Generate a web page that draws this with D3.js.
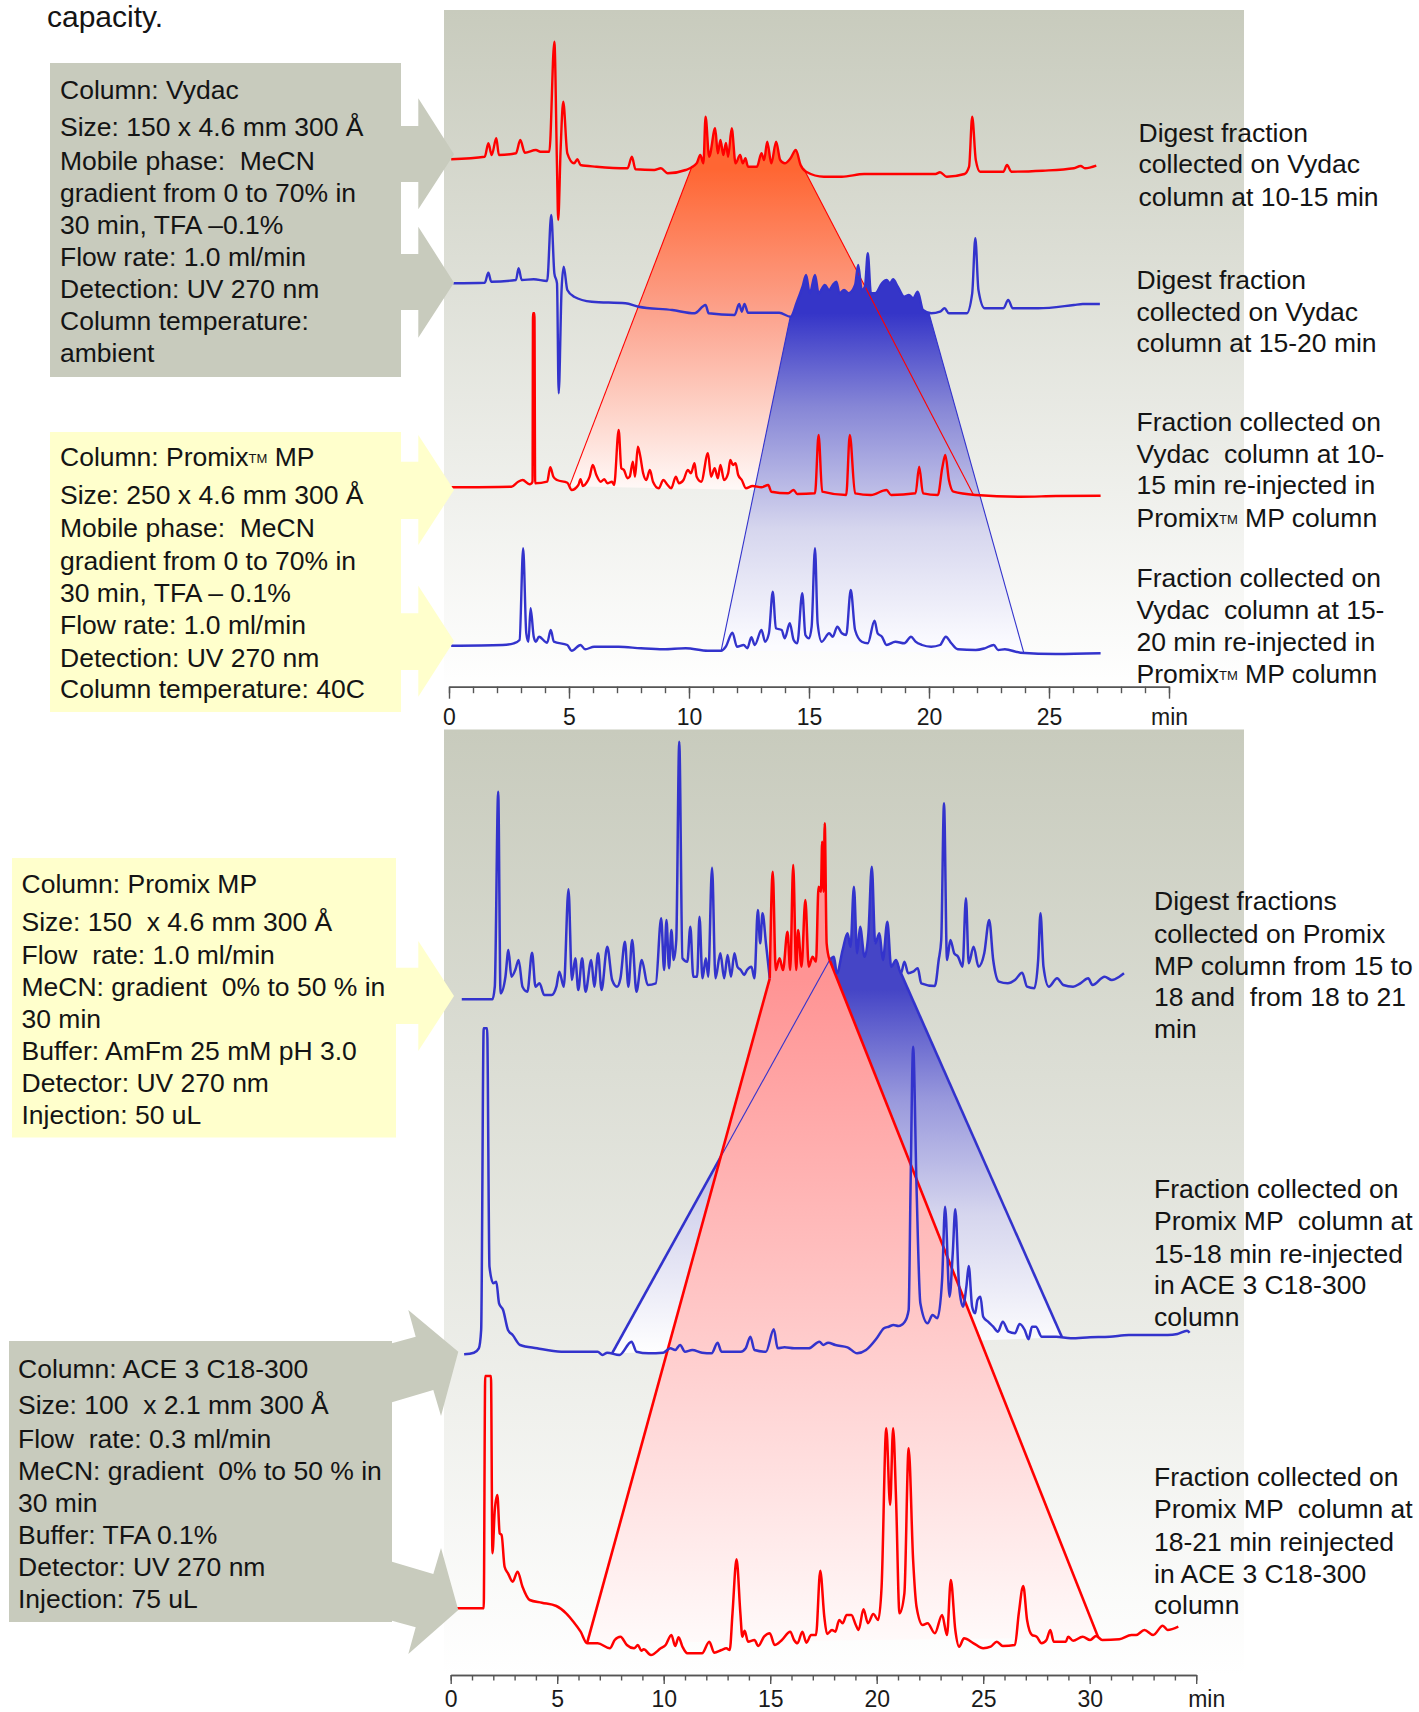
<!DOCTYPE html>
<html><head><meta charset="utf-8">
<script src="https://cdn.jsdelivr.net/npm/d3@7"></script>
<style>
body{margin:0;background:#fff}
svg{display:block}
text{font-family:"Liberation Sans",Arial,Helvetica,sans-serif;white-space:pre}
</style>
</head><body>
<svg id="c" width="1419" height="1712"></svg>
<script>
// ---------------- DATA ----------------
// Top figure: time (min) vs. signal (relative to each trace's start baseline)
const vydac1015 = [[0.09,0],[1.49,2.6],[1.64,16],[1.78,4.3],[1.97,21],[2.08,4.3],[2.79,6],[2.97,19.3],[3.16,6.6],[3.62,9.3],[3.81,7.6],[4.18,7.6],[4.39,117.6],[4.50,-7.4],[4.55,-60.7],[4.65,9.3],[4.76,57.6],[4.93,6],[5.21,-4],[5.35,0],[5.48,-5.7],[6.14,-7.4],[7.44,-9],[7.62,2.6],[7.77,-10],[8.55,-10.7],[8.83,-9],[9.11,-14],[9.86,-10.7],[10.32,-4],[10.47,4.3],[10.6,-4],[10.69,42.6],[10.84,2.6],[11.09,31],[11.2,6],[11.31,19.3],[11.43,4.3],[11.54,16.3],[11.63,2.6],[11.78,31],[11.94,-4],[12.13,4.3],[12.24,-4],[12.35,1],[12.46,-7.4],[12.83,-7.4],[13.02,6],[13.13,-0.7],[13.26,17.6],[13.43,-4],[13.63,17.6],[13.8,-0.7],[13.99,-4],[14.23,1],[14.45,9.3],[14.65,-5.7],[14.88,-12.4],[15.62,-17.4],[16.37,-17.4],[17.3,-14.7],[20.27,-14.7],[20.46,-13],[20.74,-17.4],[21.48,-14.7],[21.67,-7.4],[21.8,42.6],[21.95,-0.7],[22.13,-12.4],[23.1,-12.4],[23.25,-5.7],[23.43,-12.4],[24.74,-11.4],[26.04,-9],[26.32,-6.7],[26.5,-9],[26.97,-6.4]];
const vydac1520 = [[0.18,0],[1.49,0.6],[1.64,10.6],[1.76,1.6],[2.79,3.3],[2.90,15],[3.03,3.3],[3.53,4],[4.09,2.3],[4.26,68.3],[4.39,10],[4.5,0],[4.57,-110],[4.69,-6.7],[4.78,16.6],[4.93,-6.7],[5.21,-13.4],[5.95,-18.4],[7.35,-20],[7.9,-23.4],[9.3,-26.7],[10.23,-30],[10.69,-21.7],[10.82,-30],[11.9,-31.7],[12.09,-20.7],[12.2,-28.4],[12.31,-20.7],[12.46,-29.4],[13.76,-29.4],[14.23,-33.4],[14.5,-18.4],[14.73,-3.4],[14.88,8.3],[15.03,-10],[15.25,8.3],[15.4,-10],[15.66,-1.7],[15.84,-6.7],[15.99,-1.7],[16.14,1.6],[16.27,-10],[16.46,-6.7],[16.65,-10],[16.92,-1.7],[17.05,18.3],[17.2,-6.7],[17.33,-3.4],[17.45,30],[17.58,-10],[17.76,-10],[18.04,0],[18.23,3.3],[18.38,0],[18.5,4],[18.7,-3.4],[18.97,-13.4],[19.16,-11.7],[19.34,-15],[19.53,-8.4],[19.75,-26.7],[20.09,-30],[20.46,-28.4],[20.65,-25],[20.83,-30],[21.57,-30],[21.8,-10],[21.93,45],[22.06,-6.7],[22.32,-25],[23.1,-25],[23.3,-16.7],[23.49,-25],[24.55,-25],[26.04,-21.7],[26.41,-20.7],[27.12,-20.7]];
const promix1015 = [[0.09,0],[2.6,0.6],[2.88,5.6],[3.07,7.3],[3.35,3],[3.44,4],[3.48,5.6],[3.50,174],[3.56,174],[3.59,4],[4.09,5.6],[4.22,20],[4.35,10.6],[4.5,7.3],[4.93,4.6],[5.11,-2.7],[5.39,2.3],[5.48,8],[5.58,1.3],[5.76,5.6],[5.86,10.6],[5.99,22.3],[6.14,12.3],[6.32,5.6],[6.47,8],[6.6,4],[6.79,5.6],[6.88,2.3],[7.07,57.3],[7.18,19],[7.29,17.3],[7.44,9],[7.53,10.6],[7.66,25.6],[7.75,10.6],[7.87,40.6],[7.96,32.3],[8.09,14],[8.22,7.3],[8.37,17.3],[8.5,5.6],[8.74,-1],[8.93,7.3],[9.11,2.3],[9.26,-1],[9.45,10.6],[9.58,4],[9.77,7.3],[9.95,17.3],[10.08,14],[10.23,24],[10.32,10.6],[10.51,5.6],[10.79,34],[10.92,10.6],[11.07,19],[11.2,9],[11.31,22.3],[11.46,7.3],[11.63,14],[11.72,27.3],[11.83,22.3],[11.94,24],[12.05,12.3],[12.2,7.3],[12.37,-1],[12.65,1.3],[13.02,0],[13.3,2.3],[13.43,-4.4],[14.13,-6],[14.36,-2.7],[14.51,-6.7],[15.25,-6],[15.4,52.3],[15.55,-4.4],[16.55,-7.7],[16.7,52.3],[16.92,-6],[17.58,-7.7],[18.23,-2.7],[18.42,-7.7],[19.44,-6],[19.59,20.6],[19.75,-6],[20.37,-7.7],[20.55,19],[20.68,32.3],[20.83,7.3],[21.02,-4.4],[21.95,-7.7],[23.81,-9.4],[25.29,-8.7],[27.15,-8.4]];
const promix1520 = [[0.09,0],[2.23,0.7],[2.7,2.4],[2.94,5.7],[3.09,97.4],[3.22,12.4],[3.31,4],[3.4,37.4],[3.53,9],[3.62,4],[3.75,9],[4.09,3],[4.24,15.7],[4.37,4],[4.93,0.7],[5.11,-5],[5.48,0.7],[5.67,-3.6],[6.05,-1],[6.51,-1],[7.07,-1],[8.0,-2.6],[8.93,-3.6],[9.86,-2.6],[10.79,-5],[11.34,-5],[11.53,-1],[11.81,13],[12.0,-1],[12.28,0.7],[12.43,-2.6],[12.6,8.4],[12.74,0.7],[13.02,15.7],[13.17,4],[13.33,12.4],[13.49,54],[13.62,17.4],[13.86,15.7],[13.99,7.4],[14.2,22.4],[14.36,5.7],[14.51,2.4],[14.72,52.4],[14.85,10.7],[15.0,7.4],[15.11,19],[15.25,97.4],[15.36,22.4],[15.53,4],[15.84,12.4],[15.99,9],[16.18,19],[16.37,12.4],[16.55,10.7],[16.74,55.7],[16.92,15.7],[17.2,4],[17.45,2.4],[17.73,25],[17.86,12.4],[18.04,9],[18.23,0.7],[18.6,4],[18.97,2.4],[19.25,9],[19.44,4],[19.71,0.7],[20.09,-1],[20.46,0.7],[20.7,9],[20.93,2.4],[21.2,-3.6],[21.95,-4.3],[22.32,-2.6],[22.7,0.7],[22.88,-4.3],[23.16,-3.6],[23.81,-7],[25.29,-8.3],[27.15,-7.6]];

// Bottom figure
const promixDigest = [[0.52,0],[1.96,0],[2.07,12.6],[2.23,207.6],[2.34,6],[2.57,22.6],[2.71,49.3],[2.85,22.6],[3.03,29.3],[3.19,39.3],[3.37,12.6],[3.6,7.6],[3.82,46.6],[3.98,12.6],[4.17,16],[4.39,4.3],[4.74,4.3],[4.96,12.6],[5.1,27.6],[5.31,12.6],[5.53,110],[5.69,19.3],[5.85,41],[5.99,9.3],[6.17,41],[6.33,7.6],[6.6,39.3],[6.74,12.6],[6.92,46],[7.08,9.3],[7.35,52.6],[7.58,19.3],[7.81,12.6],[7.97,21],[8.18,57.6],[8.34,12.6],[8.52,59.3],[8.72,7.6],[8.97,39.3],[9.25,14.3],[9.63,16],[9.88,81],[10.02,29.3],[10.13,79.3],[10.25,31],[10.36,69.3],[10.47,39.3],[10.59,59.3],[10.73,257.6],[10.88,41],[11.11,37.6],[11.25,72.6],[11.39,22.6],[11.57,22.6],[11.68,82.6],[11.82,21],[11.98,41],[12.09,22.6],[12.27,131.6],[12.43,21],[12.66,46],[12.84,21],[13.0,44.3],[13.16,22.6],[13.32,46],[13.46,32.6],[13.62,29.3],[13.78,24.3],[13.91,29.3],[14.12,32.6],[14.26,21],[14.42,89.3],[14.53,56],[14.64,86],[14.8,56],[14.98,21],[15.12,127.6],[15.26,29.3],[15.44,41],[15.6,29.3],[15.81,67.6],[15.94,29.3],[16.08,134.3],[16.22,29.3],[16.31,69.3],[16.47,32.6],[16.65,99.3],[16.81,32.6],[16.99,42.6],[17.15,37.6],[17.27,112.6],[17.38,107.6],[17.44,157.6],[17.51,107.6],[17.56,176],[17.65,56],[17.79,39.3],[17.99,42.6],[18.13,26],[18.4,49.3],[18.63,66],[18.77,52.6],[18.93,112.6],[19.08,46],[19.22,72.6],[19.43,42.6],[19.61,66],[19.77,132.6],[19.93,56],[20.13,66],[20.29,39.3],[20.5,77.6],[20.68,32.6],[20.91,39.3],[21.14,26],[21.3,37.6],[21.48,26],[21.71,27.6],[21.93,31],[22.09,16],[22.73,13.3],[22.91,39.3],[23.03,59.3],[23.16,196],[23.3,39.3],[23.46,59.3],[23.64,46],[23.82,42.6],[24.03,32.6],[24.19,101],[24.32,36],[24.55,52.6],[24.78,32.6],[25.05,46],[25.28,79.3],[25.47,39.3],[25.74,17.6],[26.15,16],[26.49,19.3],[26.83,26.6],[27.06,12.6],[27.4,11],[27.58,39.3],[27.69,86],[27.83,32.6],[28.08,12.6],[28.47,21],[28.76,14.3],[29.22,12.6],[29.56,16],[29.93,21],[30.13,14.3],[30.7,22.6],[31.04,19.3],[31.39,22.6],[31.61,26]];
const ace1518 = [[0.63,0],[1.09,1.6],[1.32,6],[1.43,24.3],[1.55,326],[1.71,326],[1.82,87.6],[2.0,71],[2.14,72.6],[2.27,51],[2.46,44.3],[2.69,24.3],[2.91,19.3],[3.26,9.3],[4.05,6],[5.19,2.6],[6.33,2.6],[6.9,2.6],[7.13,-0.7],[7.35,1.6],[7.92,-0.7],[8.49,12.6],[8.72,2.6],[9.29,1],[9.98,1.6],[10.31,6],[10.54,4.3],[10.77,9.3],[11.0,2.6],[11.34,4.3],[11.8,1.6],[12.25,1],[12.53,11.6],[12.71,2.6],[13.62,2.6],[13.85,6],[14.07,17.6],[14.26,4.3],[14.8,2.6],[15.17,25],[15.35,6],[15.67,7],[16.12,6],[16.81,6],[17.31,12.6],[17.49,9.3],[17.72,11.6],[18.06,9.3],[18.63,7],[19.08,1],[19.5,4.3],[20.0,16],[20.34,26],[20.56,27.6],[20.79,29.3],[21.02,28.3],[21.32,32.6],[21.5,44.3],[21.59,167.6],[21.71,307.6],[21.87,167.6],[22.05,51],[22.39,31],[22.62,39.3],[22.85,36],[23.07,74.3],[23.21,147.6],[23.42,57.6],[23.57,101],[23.69,145],[23.87,67.6],[24.05,47.6],[24.21,67.6],[24.32,88.3],[24.48,47.6],[24.62,41],[24.73,54.3],[24.87,57.6],[25.0,37.6],[25.23,32.6],[25.47,27.6],[25.69,22.6],[25.92,32.6],[26.19,22.6],[26.49,21],[26.71,30.3],[26.95,24.3],[27.13,15],[27.29,27.6],[27.47,27.6],[27.75,17.6],[28.43,17.6],[29.11,16],[30.02,17],[30.94,17.6],[31.84,19.3],[32.75,19.3],[33.66,19.3],[34.12,20.3],[34.57,23.6],[34.69,21.6]];
const ace1821 = [[0.14,0],[1.55,0],[1.62,232.3],[1.89,232.3],[1.96,55],[2.07,98.3],[2.19,113.3],[2.3,75],[2.39,73.3],[2.53,41.6],[2.69,35],[2.91,26.6],[3.14,36.6],[3.37,21.6],[3.71,8.3],[4.28,5.6],[4.96,2.3],[5.42,-5],[5.76,-13.4],[6.1,-23.4],[6.4,-35],[6.9,-35],[7.47,-40],[7.7,-31.7],[7.97,-28.4],[8.27,-36.7],[8.61,-40],[8.79,-36.7],[8.95,-42.4],[9.06,-41],[9.4,-46.7],[9.86,-40],[10.09,-36.7],[10.36,-26.7],[10.54,-37.7],[10.7,-29],[10.88,-38.4],[11.11,-45],[11.8,-45],[12.14,-33.4],[12.37,-44.4],[12.71,-41.7],[12.94,-40],[13.1,-41.7],[13.23,-5],[13.42,49],[13.6,-5],[13.69,-28.4],[13.8,-22.4],[13.96,-33.4],[14.26,-31.7],[14.44,-37.7],[14.71,-28.4],[14.98,-25],[15.21,-36.7],[15.55,-31.7],[15.94,-23.4],[16.12,-31.7],[16.28,-35],[16.51,-23.4],[16.7,-34.4],[16.92,-26.7],[17.15,-26.7],[17.35,37.6],[17.54,-8.4],[17.67,-25.7],[17.9,-21.7],[18.06,-23.4],[18.24,-11.7],[18.4,-15],[18.59,-6.7],[18.81,-6.7],[19.02,-16.7],[19.15,-21.7],[19.38,-1],[19.59,-15],[19.84,-5.7],[20.07,-11.7],[20.23,21.6],[20.45,180],[20.63,103.3],[20.77,180],[20.91,108.3],[21.07,-5],[21.3,15],[21.5,160],[21.71,48.3],[21.87,1.6],[22.16,-16.7],[22.39,-15],[22.73,-25],[23.07,-6.7],[23.3,-26.7],[23.48,28.3],[23.69,-21.7],[23.87,-38.4],[24.1,-30],[24.55,-35],[25.0,-40],[25.35,-38.4],[25.64,-33.4],[25.92,-37.7],[26.49,-36.7],[26.67,-5],[26.88,22.3],[27.06,-11.7],[27.29,-26.7],[27.51,-28.4],[27.74,-35],[27.97,-31.7],[28.15,-21.7],[28.31,-33.4],[28.88,-33.4],[28.99,-28.4],[29.22,-32.4],[29.67,-28.4],[30.02,-31.7],[30.3,-27.7],[30.59,-31.7],[31.39,-31],[31.96,-26.7],[32.18,-26.7],[32.57,-21.7],[32.98,-26.7],[33.43,-17.4],[33.66,-21.7],[34.16,-18.4]];

// vertical stacking offsets (same units as the signals)
const topOffsets = [530.7, 406.7, 202.7, 44.3];
const bottomOffsets = [670.7, 315.7, 61.7];

// collected fraction windows (min)
const topRedWin = [10.13, 14.78], topRedDest = [5.02, 21.85];
const topBlueWin = [14.22, 19.99], topBlueDest = [11.34, 23.95];
const botRedWin = [14.98, 17.79], botRedDest = [6.4, 30.4];
const botBlueWin = [17.79, 21.14], botBlueDest = [7.57, 28.7];

// axes
const topDomain = [0, 30], botDomain = [0, 35];
const topMajor = [0, 5, 10, 15, 20, 25, 30];
const botMajor = [0, 5, 10, 15, 20, 25, 30, 35];
const axisUnit = "min";

// texts
const headText = "capacity.";
const box1Lines = ["Column: Vydac","Size: 150 x 4.6 mm 300 Å","Mobile phase:  MeCN","gradient from 0 to 70% in","30 min, TFA –0.1%","Flow rate: 1.0 ml/min","Detection: UV 270 nm","Column temperature:","ambient"];
const box2Lines = ["Column: Promix™ MP","Size: 250 x 4.6 mm 300 Å","Mobile phase:  MeCN","gradient from 0 to 70% in","30 min, TFA – 0.1%","Flow rate: 1.0 ml/min","Detection: UV 270 nm","Column temperature: 40C"];
const box3Lines = ["Column: Promix MP","Size: 150  x 4.6 mm 300 Å","Flow  rate: 1.0 ml/min","MeCN: gradient  0% to 50 % in","30 min","Buffer: AmFm 25 mM pH 3.0","Detector: UV 270 nm","Injection: 50 uL"];
const box4Lines = ["Column: ACE 3 C18-300","Size: 100  x 2.1 mm 300 Å","Flow  rate: 0.3 ml/min","MeCN: gradient  0% to 50 % in","30 min","Buffer: TFA 0.1%","Detector: UV 270 nm","Injection: 75 uL"];
const topLabels = [
  ["Digest fraction","collected on Vydac","column at 10-15 min"],
  ["Digest fraction","collected on Vydac","column at 15-20 min"],
  ["Fraction collected on","Vydac  column at 10-","15 min re-injected in","Promix™ MP column"],
  ["Fraction collected on","Vydac  column at 15-","20 min re-injected in","Promix™ MP column"]
];
const botLabels = [
  ["Digest fractions","collected on Promix","MP column from 15 to","18 and  from 18 to 21","min"],
  ["Fraction collected on","Promix MP  column at","15-18 min re-injected","in ACE 3 C18-300","column"],
  ["Fraction collected on","Promix MP  column at","18-21 min reinjected","in ACE 3 C18-300","column"]
];

// ---------------- DRAWING ----------------
const RED = "#ff0000", BLUE = "#3333cc", GRAY = "#c8cbbd", YEL = "#ffffcc", INK = "#141414";
const svg = d3.select("#c");
const defs = svg.append("defs");

const xTop = d3.scaleLinear().domain(topDomain).range([449, 1169]);
const yTop = d3.scaleLinear().domain([0, 680]).range([690, 10]);
const xBot = d3.scaleLinear().domain(botDomain).range([450.7, 1196.2]);
const yBot = d3.scaleLinear().domain([0, 940]).range([1670, 730]);

function grad(id, y1, y2, stops){
  const g = defs.append("linearGradient").attr("id", id).attr("gradientUnits","userSpaceOnUse")
    .attr("x1",0).attr("x2",0).attr("y1",y1).attr("y2",y2);
  stops.forEach(s => g.append("stop").attr("offset", s[0]).attr("stop-color", s[1]));
}
grad("bgTop", 10, 690, [[0,"#c8cbbd"],[1,"#ffffff"]]);
grad("bgBot", 730, 1675, [[0,"#c8cbbd"],[1,"#ffffff"]]);

// panels
svg.append("rect").attr("x",444).attr("y",10).attr("width",800).attr("height",678).attr("fill","url(#bgTop)");
svg.append("rect").attr("x",444).attr("y",729.5).attr("width",800).attr("height",946).attr("fill","url(#bgBot)");

const interp = (tr, t) => {
  const i = d3.bisector(d => d[0]).left(tr, t);
  if (i <= 0) return tr[0][1];
  if (i >= tr.length) return tr[tr.length-1][1];
  const a = tr[i-1], b = tr[i];
  return a[1] + (b[1]-a[1]) * (t - a[0]) / (b[0] - a[0]);
};
const segment = (tr, w) => [[w[0], interp(tr, w[0])], ...tr.filter(d => d[0] > w[0] && d[0] < w[1]), [w[1], interp(tr, w[1])]];
const lineGen = (x, y, off) => d3.line().x(d => x(d[0])).y(d => y(d[1] + off)).curve(d3.curveMonotoneX);

function fraction(x, y, src, srcOff, win, dst, dstOff, dest){
  const top = segment(src, win);
  const p = lineGen(x, y, srcOff)(top)
    + `L${x(dest[1])},${y(interp(dst, dest[1]) + dstOff)}`
    + `L${x(dest[0])},${y(interp(dst, dest[0]) + dstOff)}Z`;
  const edges = [
    [[x(win[0]), y(interp(src, win[0]) + srcOff)], [x(dest[0]), y(interp(dst, dest[0]) + dstOff)]],
    [[x(win[1]), y(interp(src, win[1]) + srcOff)], [x(dest[1]), y(interp(dst, dest[1]) + dstOff)]]
  ];
  return {p, edges};
}
function drawEdge(g, e, color, w){
  g.append("line").attr("x1", e[0][0]).attr("y1", e[0][1]).attr("x2", e[1][0]).attr("y2", e[1][1])
    .attr("stroke", color).attr("stroke-width", w);
}

// ---- top panel fractions
const gT = svg.append("g");
const tR = fraction(xTop, yTop, vydac1015, topOffsets[0], topRedWin, promix1015, topOffsets[2], topRedDest);
const tB = fraction(xTop, yTop, vydac1520, topOffsets[1], topBlueWin, promix1520, topOffsets[3], topBlueDest);
grad("gTR", yTop(topOffsets[0] - 10), yTop(topOffsets[2]), [[0,"#ff6633"],[0.45,"#fca28c"],[1,"#fff8f6"]]);
grad("gTB", yTop(topOffsets[1] - 30), yTop(topOffsets[3]), [[0,"#3535c8"],[0.28,"#8686d6"],[0.65,"#d6d6ee"],[1,"#fbfbff"]]);
gT.append("path").attr("d", tR.p).attr("fill", "url(#gTR)");
gT.append("path").attr("d", tB.p).attr("fill", "url(#gTB)");
tR.edges.forEach(e => drawEdge(gT, e, RED, 1.1));
tB.edges.forEach(e => drawEdge(gT, e, BLUE, 1.1));

const topTraces = [[vydac1015, RED],[vydac1520, BLUE],[promix1015, RED],[promix1520, BLUE]];
topTraces.forEach((tr, i) => {
  gT.append("path").attr("d", lineGen(xTop, yTop, topOffsets[i])(tr[0]))
    .attr("fill","none").attr("stroke", tr[1]).attr("stroke-width", 2.4).attr("stroke-linejoin","round");
});

// ---- bottom panel fractions
const gB = svg.append("g");
const bR = fraction(xBot, yBot, promixDigest, bottomOffsets[0], botRedWin, ace1821, bottomOffsets[2], botRedDest);
const bB = fraction(xBot, yBot, promixDigest, bottomOffsets[0], botBlueWin, ace1518, bottomOffsets[1], botBlueDest);
grad("gBR", yBot(bottomOffsets[0] + 20), yBot(bottomOffsets[2] - 35), [[0,"#ff9494"],[1,"#fffafa"]]);
grad("gBB", yBot(bottomOffsets[0] + 10), yBot(bottomOffsets[1]), [[0,"#4545c6"],[0.3,"#9898dc"],[0.62,"#d6d6ee"],[1,"#ffffff"]]);
gB.append("path").attr("d", bB.p).attr("fill", "url(#gBB)");
bB.edges.forEach(e => drawEdge(gB, e, BLUE, 2.6));
gB.append("path").attr("d", bR.p).attr("fill", "url(#gBR)");
drawEdge(gB, bB.edges[0], BLUE, 1.1);
bR.edges.forEach(e => drawEdge(gB, e, RED, 2.6));

const lineStyle = (p, c) => p.attr("fill","none").attr("stroke", c).attr("stroke-width", 2.5).attr("stroke-linejoin","round");
lineStyle(gB.append("path").attr("d", lineGen(xBot, yBot, bottomOffsets[1])(ace1518)), BLUE);
lineStyle(gB.append("path").attr("d", lineGen(xBot, yBot, bottomOffsets[2])(ace1821)), RED);
const dA = promixDigest.filter(d => d[0] <= botRedWin[0]);
const dB = promixDigest.filter(d => d[0] >= botRedWin[0] && d[0] <= botRedWin[1]);
const dC = promixDigest.filter(d => d[0] >= botRedWin[1]);
lineStyle(gB.append("path").attr("d", lineGen(xBot, yBot, bottomOffsets[0])(dA)), BLUE);
lineStyle(gB.append("path").attr("d", lineGen(xBot, yBot, bottomOffsets[0])(dC)), BLUE);
lineStyle(gB.append("path").attr("d", lineGen(xBot, yBot, bottomOffsets[0])(dB)), RED);

// ---- axes
function drawAxis(x, y0, majors, domainEnd, majLen, minLen, pad, unitDx){
  const g = svg.append("g").attr("transform", `translate(0,${y0})`);
  g.call(d3.axisBottom(x).tickValues(d3.range(domainEnd[0], domainEnd[1] + 1)).tickSize(minLen).tickSizeOuter(0).tickFormat(""));
  const g2 = svg.append("g").attr("transform", `translate(0,${y0})`);
  g2.call(d3.axisBottom(x).tickValues(majors).tickSize(majLen).tickSizeOuter(0).tickPadding(pad)
    .tickFormat(d => d === domainEnd[1] ? axisUnit : d));
  [g, g2].forEach(a => {
    a.selectAll("path,line").attr("stroke", "#555").attr("stroke-width", 1.4);
    a.selectAll("text").attr("font-size", 23).attr("fill", "#1a1a1a").attr("font-family", '"Liberation Sans",Arial,sans-serif');
  });
  g2.selectAll(".tick").filter(d => d === domainEnd[1]).select("text").attr("dx", unitDx);
}
drawAxis(xTop, 686.7, topMajor, topDomain, 12, 6.5, 10, 0);
drawAxis(xBot, 1675, botMajor, botDomain, 9, 5.5, 7, 10);

// ---- info boxes + arrows
const boxes = [
  {x:50, y:63, w:351, h:314, fill:GRAY, tx:60, lines:box1Lines, base:[99,136,169.5,201.5,233.5,265.5,297.5,329.5,361.5]},
  {x:50, y:432, w:351, h:280, fill:YEL, tx:60, lines:box2Lines, base:[466,504,537,569.5,601.5,633.5,666.5,697.5]},
  {x:12, y:858, w:384, h:279.5, fill:YEL, tx:21.5, lines:box3Lines, base:[892.5,930.5,963.5,996,1028,1059.5,1092,1123.5]},
  {x:9, y:1341, w:383, h:281, fill:GRAY, tx:18, lines:box4Lines, base:[1377.5,1413.5,1447.5,1480,1511.5,1544,1576,1608]}
];
const arrows = [
  [[401,126],[418.3,126],[418.3,98.3],[454,154.3],[418.3,209.3],[418.3,182],[401,182], GRAY],
  [[401,254],[418.3,254],[418.3,226.7],[454,282.7],[418.3,337.7],[418.3,310],[401,310], GRAY],
  [[401,461.7],[418.3,461.7],[418.3,435],[454,490],[418.3,545],[418.3,519],[401,519], YEL],
  [[401,613.3],[418.3,613.3],[418.3,585.7],[454,641],[418.3,696.7],[418.3,670],[401,670], YEL],
  [[395.7,967.7],[418.3,967.7],[418.3,941],[454,996],[418.3,1051],[418.3,1024],[395.7,1024], YEL],
  [[392,1343.3],[415.7,1336.7],[408.3,1310],[458.3,1351.7],[441,1416],[433.3,1390],[392,1402.3], GRAY],
  [[392,1561.7],[433.3,1574],[441,1548],[458.3,1610],[408.3,1654],[415.7,1627.3],[392,1620.7], GRAY]
];
arrows.forEach(a => {
  svg.append("polygon").attr("points", a.slice(0,7).map(p => p.join(",")).join(" ")).attr("fill", a[7]);
});

function addLine(g, x, y, s){
  const t = g.append("text").attr("x", x).attr("y", y).attr("font-size", 26.5).attr("fill", INK);
  if (s.includes("™")) {
    const parts = s.split("™");
    t.append("tspan").text(parts[0]);
    t.append("tspan").attr("font-size", 13).attr("dy", -3).text("TM");
    t.append("tspan").attr("dy", 3).text(parts[1]);
  } else t.text(s);
}
boxes.forEach(b => {
  svg.append("rect").attr("x", b.x).attr("y", b.y).attr("width", b.w).attr("height", b.h).attr("fill", b.fill);
  b.lines.forEach((s, i) => addLine(svg, b.tx, b.base[i], s));
});

// ---- right labels
const topLabelPos = [{x:1138.5, base:[141.6,173.2,206]},{x:1136.5, base:[289,320.5,352]},{x:1136.5, base:[431,462.5,494,527]},{x:1136.5, base:[587,618.5,651,683]}];
topLabels.forEach((lines, i) => lines.forEach((s, j) => addLine(svg, topLabelPos[i].x, topLabelPos[i].base[j], s)));
const botLabelPos = [{x:1154, base:[910,942.5,974.5,1006,1037.5]},{x:1154, base:[1198,1230,1262.5,1294,1326]},{x:1154, base:[1486,1518,1550.5,1582.5,1614]}];
botLabels.forEach((lines, i) => lines.forEach((s, j) => addLine(svg, botLabelPos[i].x, botLabelPos[i].base[j], s)));

// heading fragment (continuation of the page text above the figure)
svg.append("text").attr("x", 47).attr("y", 27).attr("font-size", 30).attr("fill", INK).text(headText);
</script>
</body></html>
